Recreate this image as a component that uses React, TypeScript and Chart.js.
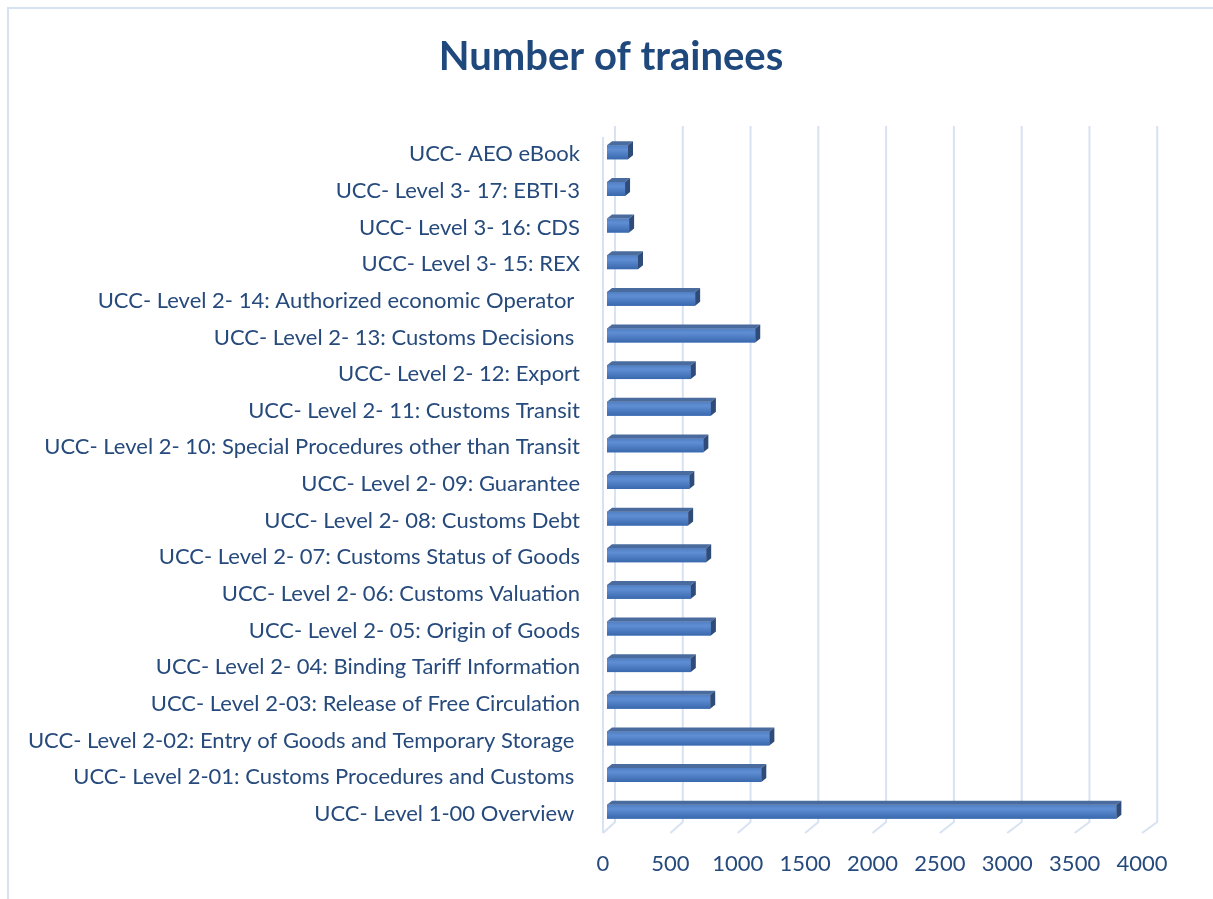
import React, { useEffect, useRef } from "react";
import { Chart, registerables } from "chart.js";

Chart.register(...registerables);

// Categories in the workbook order (first one is drawn at the bottom)
const categories: string[] = [
  "UCC- Level 1-00 Overview ",
  "UCC- Level 2-01: Customs Procedures and Customs ",
  "UCC- Level 2-02: Entry of Goods and Temporary Storage ",
  "UCC- Level 2-03: Release of Free Circulation",
  "UCC- Level 2- 04: Binding Tariff Information",
  "UCC- Level 2- 05: Origin of Goods",
  "UCC- Level 2- 06: Customs Valuation",
  "UCC- Level 2- 07: Customs Status of Goods",
  "UCC- Level 2- 08: Customs Debt",
  "UCC- Level 2- 09: Guarantee",
  "UCC- Level 2- 10: Special Procedures other than Transit",
  "UCC- Level 2- 11: Customs Transit",
  "UCC- Level 2- 12: Export",
  "UCC- Level 2- 13: Customs Decisions ",
  "UCC- Level 2- 14: Authorized economic Operator ",
  "UCC- Level 3- 15: REX",
  "UCC- Level 3- 16: CDS",
  "UCC- Level 3- 17: EBTI-3",
  "UCC- AEO eBook",
];

const trainees: number[] = [
  3780, 1145, 1205, 766, 622, 771, 622, 736, 602, 611, 715, 771, 622, 1100,
  654, 230, 164, 134, 156,
];

const xTickValues: number[] = [0, 500, 1000, 1500, 2000, 2500, 3000, 3500, 4000];
const xTickLabels: string[] = ["0", "500", "1000", "1500", "2000", "2500", "3000", "3500", "4000"];

const TITLE = "Number of trainees";
const FONT = "Lato, 'Noto Sans', sans-serif";

const depthPlugin = {
  id: "depth3d",
  beforeDatasetsDraw(chart: any) {
    const { ctx, chartArea, scales } = chart;
    const xs = scales.x;
    const left = chartArea.left;
    const backTop = chartArea.top - 8;
    const backBottom = chartArea.bottom - 8;
    const frontBottom = chartArea.bottom + 3;
    ctx.save();
    ctx.strokeStyle = "#D7E2F2";
    ctx.lineWidth = 2;
    const f0 = xs.getPixelForValue(0) - 4;
    ctx.beginPath();
    ctx.moveTo(f0, chartArea.top + 3);
    ctx.lineTo(f0, frontBottom);
    ctx.stroke();
    xs.ticks.forEach((t: any) => {
      const px = xs.getPixelForValue(t.value);
      const bx = px + 8 + (px - left) * 0.006;
      const fx = px - 4;
      ctx.beginPath();
      ctx.moveTo(bx, backTop);
      ctx.lineTo(bx, backBottom);
      ctx.lineTo(fx, frontBottom);
      ctx.stroke();
    });
    ctx.restore();
  },
  afterDatasetsDraw(chart: any) {
    const ctx = chart.ctx;
    const meta = chart.getDatasetMeta(0);
    const dx = 5;
    const dy = 4;
    ctx.save();
    meta.data.forEach((bar: any) => {
      const { x, y, base, height } = bar.getProps(["x", "y", "base", "height"], true);
      const top = y - height / 2;
      const bottom = y + height / 2;
      const g = ctx.createLinearGradient(0, top, 0, bottom);
      g.addColorStop(0, "#527FC2");
      g.addColorStop(0.3, "#5F8ED4");
      g.addColorStop(1, "#3A68AD");
      ctx.fillStyle = g;
      ctx.fillRect(base, top, x - base, height);
      ctx.fillStyle = "#4A6B9D";
      ctx.beginPath();
      ctx.moveTo(base, top);
      ctx.lineTo(base + dx, top - dy);
      ctx.lineTo(x + dx, top - dy);
      ctx.lineTo(x, top);
      ctx.closePath();
      ctx.fill();
      ctx.fillStyle = "#2E4B79";
      ctx.beginPath();
      ctx.moveTo(x, top);
      ctx.lineTo(x + dx, top - dy);
      ctx.lineTo(x + dx, bottom - dy);
      ctx.lineTo(x, bottom);
      ctx.closePath();
      ctx.fill();
    });
    ctx.restore();
  },
};

export default function App() {
  const canvasRef = useRef<HTMLCanvasElement | null>(null);

  useEffect(() => {
    document.documentElement.style.overflow = "hidden";
    const canvas = canvasRef.current;
    if (!canvas) return;
    const chart = new Chart(canvas, {
      type: "bar",
      data: {
        labels: categories,
        datasets: [
          {
            label: TITLE,
            data: trainees,
            backgroundColor: "#4A7EC7",
            borderWidth: 0,
            barPercentage: 0.38,
            categoryPercentage: 1,
          },
        ],
      },
      options: {
        indexAxis: "y",
        responsive: false,
        animation: false,
        layout: { padding: { left: 0, right: 0, top: 0, bottom: 0 } },
        plugins: {
          legend: { display: false },
          tooltip: { enabled: false },
          title: {
            display: true,
            text: TITLE,
            color: "#1F497D",
            font: { family: FONT, size: 40, weight: "bold" },
            padding: { top: 24, bottom: 53 },
          },
        },
        scales: {
          x: {
            min: 0,
            max: 4000,
            afterBuildTicks: (scale: any) => {
              scale.ticks = xTickValues.map((v) => ({ value: v }));
            },
            afterFit: (scale: any) => {
              scale.height = 69;
            },
            grid: { display: false, drawTicks: false },
            border: { display: false },
            ticks: {
              color: "#264A7C",
              font: { family: FONT, size: 22 },
              padding: 21,
              labelOffset: -4,
              maxRotation: 0,
              autoSkip: false,
              callback: (_v: any, i: number) => xTickLabels[i],
            },
          },
          y: {
            reverse: true,
            afterFit: (scale: any) => {
              scale.width = 598;
            },
            grid: { display: false, drawTicks: false },
            border: { display: false },
            ticks: {
              color: "#264A7C",
              font: { family: FONT, size: 22 },
              padding: 27,
              labelOffset: 2,
              autoSkip: false,
            },
          },
          yRight: {
            type: "linear",
            position: "right",
            display: true,
            afterFit: (scale: any) => {
              scale.width = 67;
            },
            grid: { display: false, drawTicks: false },
            border: { display: false },
            ticks: { display: false },
          },
        },
      },
      plugins: [depthPlugin],
    } as any);
    return () => chart.destroy();
  }, []);

  return (
    <div
      style={{
        position: "absolute",
        left: 7,
        top: 7,
        borderLeft: "2px solid #D6E1F2",
        borderTop: "2px solid #D6E1F2",
        background: "#FFFFFF",
      }}
    >
      <canvas ref={canvasRef} width={1204} height={890} style={{ display: "block" }} />
    </div>
  );
}
